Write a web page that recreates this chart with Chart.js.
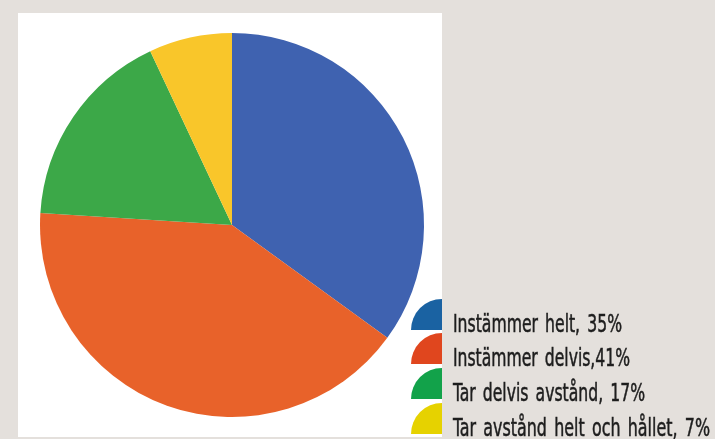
<!DOCTYPE html>
<html>
<head>
<meta charset="utf-8">
<script src="https://cdn.jsdelivr.net/npm/chart.js@4/dist/chart.umd.min.js"></script>
<style>
html,body{margin:0;padding:0;background:#e4e0dc;}
#wrap{position:relative;width:715px;height:439px;}
</style>
</head>
<body>
<div id="wrap"><canvas id="c" width="715" height="439"></canvas></div>
<script>
const categories = ["Instämmer helt", "Instämmer delvis", "Tar delvis avstånd", "Tar avstånd helt och hållet"];
const values = [35, 41, 17, 7];
const legendLabels = ["Instämmer helt, 35%", "Instämmer delvis,41%", "Tar delvis avstånd, 17%", "Tar avstånd helt och hållet, 7%"];
const sliceColors = ["#3f62b0", "#e8622a", "#3ca848", "#f9c62a"];
const iconColors = ["#1a62a2", "#e0461e", "#12a24a", "#e6d200"];

const panelPlugin = {
  id: 'panel',
  beforeDraw(chart) {
    const ctx = chart.ctx;
    ctx.save();
    ctx.fillStyle = '#e4e0dc';
    ctx.fillRect(0, 0, chart.width, chart.height);
    ctx.fillStyle = '#ffffff';
    ctx.fillRect(18, 13, 424, 424);
    ctx.restore();
  }
};

const legendPlugin = {
  id: 'customLegend',
  afterDraw(chart) {
    const ctx = chart.ctx;
    ctx.save();
    const rowY = [330, 364, 399, 434];
    const targetW = [169, 177, 192, 257];
    legendLabels.forEach((t, i) => {
      const by = rowY[i];
      ctx.beginPath();
      ctx.moveTo(442, by);
      ctx.arc(442, by, 31, Math.PI, Math.PI * 1.5);
      ctx.closePath();
      ctx.fillStyle = iconColors[i];
      ctx.fill();
      ctx.font = '24px "Liberation Sans Narrow", "DejaVu Sans Condensed", sans-serif';
      if ('wordSpacing' in ctx) ctx.wordSpacing = '3px';
      ctx.fillStyle = '#1e1e1e';
      ctx.strokeStyle = '#1e1e1e';
      ctx.lineWidth = 0.5;
      ctx.textBaseline = 'alphabetic';
      const w = ctx.measureText(t).width;
      const sx = targetW[i] / w;
      ctx.save();
      ctx.translate(453, by + 2);
      ctx.scale(sx, 1);
      ctx.fillText(t, 0, 0);
      ctx.strokeText(t, 0, 0);
      ctx.restore();
    });
    ctx.restore();
  }
};

new Chart(document.getElementById('c'), {
  type: 'pie',
  data: {
    labels: categories,
    datasets: [{
      data: values,
      backgroundColor: sliceColors,
      borderWidth: 0
    }]
  },
  options: {
    responsive: false,
    animation: false,
    layout: { padding: { left: 40, right: 291, top: 33, bottom: 22 } },
    plugins: {
      legend: { display: false },
      tooltip: { enabled: false }
    }
  },
  plugins: [panelPlugin, legendPlugin]
});
</script>
</body>
</html>
